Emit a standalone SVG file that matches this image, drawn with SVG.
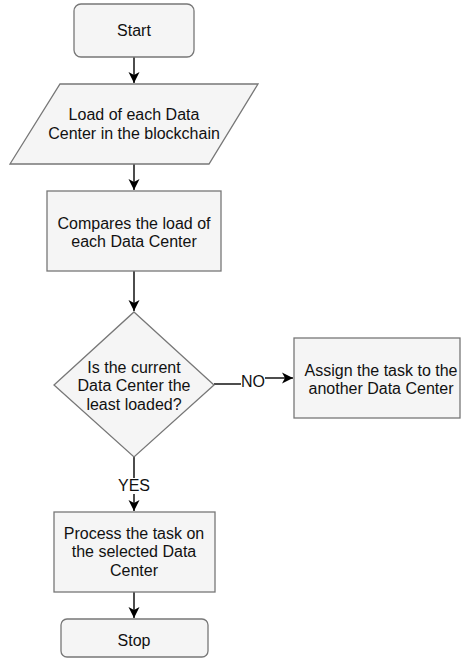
<svg xmlns="http://www.w3.org/2000/svg" width="461" height="659" viewBox="0 0 461 659">
  <style>
    .shape { fill: #f5f5f5; stroke: #777777; stroke-width: 1.3; }
    .label { font-family: "Liberation Sans", Arial, sans-serif; font-size: 16px; fill: #111111; text-anchor: middle; }
    .edge { fill: none; stroke: #000000; stroke-width: 1.4; }
  </style>
  <defs>
    <marker id="arrow" markerUnits="userSpaceOnUse" markerWidth="12" markerHeight="12" viewBox="0 0 12 12" refX="11" refY="6" orient="auto">
      <path d="M0,0.5 L11,6 L0,11.5 L3,6 Z" fill="#000000"/>
    </marker>
  </defs>

  <!-- connectors -->
  <g id="connectors">
    <path class="edge" d="M134,57 V83" marker-end="url(#arrow)"/>
    <path class="edge" d="M134,164 V190" marker-end="url(#arrow)"/>
    <path class="edge" d="M134,271 V311" marker-end="url(#arrow)"/>
    <path class="edge" d="M134,457 V511" marker-end="url(#arrow)"/>
    <path class="edge" d="M134,592 V618" marker-end="url(#arrow)"/>
    <path class="edge" d="M214,384 H241"/>
    <path class="edge" d="M265,378 H293" marker-end="url(#arrow)"/>
    <rect x="119" y="478" width="30" height="16" fill="#ffffff"/>
    <text class="label" x="134" y="491">YES</text>
    <text class="label" x="253" y="387">NO</text>
  </g>

  <g id="start">
    <rect class="shape" x="74" y="4" width="120" height="53" rx="7"/>
    <text class="label" x="134" y="36">Start</text>
  </g>

  <g id="load">
    <polygon class="shape" points="60,84 258,84 209,164 10,164"/>
    <text class="label" x="134" y="120">Load of each Data</text>
    <text class="label" x="134" y="139">Center in the blockchain</text>
  </g>

  <g id="compare">
    <rect class="shape" x="47" y="191" width="174" height="80"/>
    <text class="label" x="134" y="229">Compares the load of</text>
    <text class="label" x="134" y="247">each Data Center</text>
  </g>

  <g id="decision">
    <polygon class="shape" points="134,312 214,385 134,457 54,385"/>
    <text class="label" x="134" y="373">Is the current</text>
    <text class="label" x="134" y="391">Data Center the</text>
    <text class="label" x="134" y="410">least loaded?</text>
  </g>

  <g id="assign">
    <rect class="shape" x="294" y="338" width="166" height="80"/>
    <text class="label" x="381" y="376">Assign the task to the</text>
    <text class="label" x="381" y="394">another Data Center</text>
  </g>

  <g id="process">
    <rect class="shape" x="54" y="512" width="161" height="80"/>
    <text class="label" x="134" y="539">Process the task on</text>
    <text class="label" x="134" y="557">the selected Data</text>
    <text class="label" x="134" y="576">Center</text>
  </g>

  <g id="stop">
    <rect class="shape" x="61" y="619" width="147" height="38" rx="6"/>
    <text class="label" x="134" y="646">Stop</text>
  </g>
</svg>
